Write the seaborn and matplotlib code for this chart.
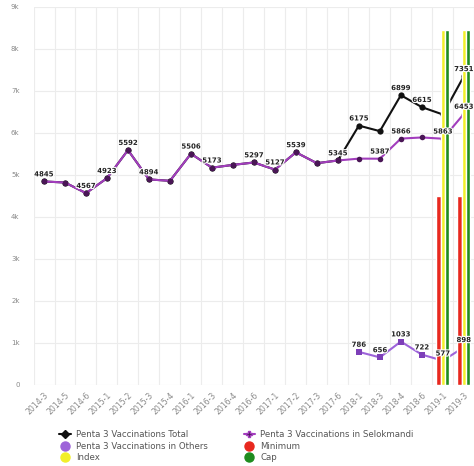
import numpy as np
import pandas as pd
import matplotlib
matplotlib.use("Agg")
import matplotlib.pyplot as plt
import matplotlib.patheffects as pe
from matplotlib.lines import Line2D
from matplotlib.ticker import FuncFormatter
import seaborn as sns

# Reporting months
months = ["2014-3", "2014-5", "2014-6", "2015-1", "2015-2", "2015-3", "2015-4",
          "2016-1", "2016-3", "2016-4", "2016-6", "2017-1", "2017-2", "2017-3",
          "2017-6", "2018-1", "2018-3", "2018-4", "2018-6", "2019-1", "2019-3"]

# Penta 3 vaccinations
total = [4845, 4820, 4567, 4923, 5592, 4894, 4860, 5506, 5173, 5240, 5297,
         5127, 5539, 5280, 5345, 6175, 6043, 6899, 6615, 6440, 7351]
selokmandi = [4845, 4820, 4567, 4923, 5592, 4894, 4860, 5506, 5173, 5240, 5297,
              5127, 5539, 5280, 5345, 5389, 5387, 5866, 5893, 5863, 6453]
others = [np.nan] * 15 + [786, 656, 1033, 722, 577, 898]

# Reference levels for the latest two months
level_months = ["2019-1", "2019-3"]
minimum = [4500, 4500]
index_level = [8450, 8450]
cap = [8450, 8450]

# Points that carry value labels
total_labeled = [0, 2, 3, 4, 5, 7, 8, 10, 11, 12, 14, 15, 17, 18, 20]
selok_labeled = [16, 17, 19, 20]
others_labeled = [15, 16, 17, 18, 19, 20]

C_TOTAL = "#111111"
C_SELOK = "#a23dbd"
C_OTHERS = "#9d63d9"
C_MIN = "#e8281f"
C_INDEX = "#f2ef2a"
C_CAP = "#1f8c1f"

sns.set_theme(style="white")
plt.rcParams["font.family"] = ["DejaVu Sans"]

fig = plt.figure(figsize=(4.74, 4.66), dpi=100)
ax = fig.add_axes([0.0707, 0.174, 0.93, 0.811])

pos = np.arange(len(months))
lines = pd.DataFrame({"pos": pos, "total": total, "selok": selokmandi, "others": others})

sns.lineplot(data=lines, x="pos", y="total", color=C_TOTAL, marker="o",
             markersize=4.5, markeredgewidth=0, linewidth=1.5, ax=ax, zorder=3)
sns.lineplot(data=lines, x="pos", y="selok", color=C_SELOK, marker="o",
             markersize=4, markerfacecolor="#4a1656", markeredgewidth=0,
             linewidth=1.5, ax=ax, zorder=4)
sns.lineplot(data=lines.dropna(), x="pos", y="others", color=C_OTHERS, marker="s",
             markersize=4, markerfacecolor="#7d3fb8", markeredgewidth=0,
             linewidth=1.5, ax=ax, zorder=4)

level_pos = [months.index(m) for m in level_months]
bars = pd.DataFrame({
    "pos": level_pos * 3,
    "value": minimum + index_level + cap,
    "kind": ["Minimum"] * 2 + ["Index"] * 2 + ["Cap"] * 2,
})
sns.barplot(data=bars, x="pos", y="value", hue="kind", native_scale=True,
            palette={"Minimum": C_MIN, "Index": C_INDEX, "Cap": C_CAP},
            hue_order=["Minimum", "Index", "Cap"], width=0.62, saturation=1,
            dodge=True, legend=False, ax=ax, zorder=5)

stroke = [pe.withStroke(linewidth=1.6, foreground="white")]

def label_points(values, idxs, dy=3):
    for i in idxs:
        v = values[i]
        ax.annotate(f"{int(v)}", (i, v), xytext=(0, dy), textcoords="offset points",
                    ha="center", va="bottom", fontsize=5, fontweight="bold",
                    color="#222222", path_effects=stroke, zorder=6)

label_points(total, total_labeled)
label_points(selokmandi, selok_labeled)
label_points(others, others_labeled)

ax.set_xlim(-0.5, len(months) - 0.5)
ax.set_ylim(0, 9000)
ax.set_xticks(pos)
ax.set_xticklabels(months, rotation=45, ha="right", rotation_mode="anchor",
                   fontsize=5.6, color="#8a8a8a")
ax.set_xticks(np.arange(-0.5, len(months)), minor=True)
ax.set_yticks(np.arange(0, 9001, 1000))
ax.yaxis.set_major_formatter(FuncFormatter(lambda v, _: "0" if v == 0 else f"{int(v/1000)}k"))
ax.tick_params(axis="y", labelsize=5, labelcolor="#8a8a8a", length=0, pad=10)
ax.tick_params(axis="x", which="both", length=0, pad=4)
ax.set_xlabel("")
ax.set_ylabel("")
ax.grid(False)
ax.yaxis.grid(True, color="#ececec", linewidth=0.8)
ax.xaxis.grid(True, which="minor", color="#ececec", linewidth=0.8)
ax.set_axisbelow(True)
for s in ax.spines.values():
    s.set_visible(False)

handles = [
    Line2D([], [], color=C_TOTAL, marker="D", markersize=4, linewidth=1.5),
    Line2D([], [], color=C_OTHERS, marker="o", markersize=6.5, linewidth=0),
    Line2D([], [], color=C_INDEX, marker="o", markersize=6.5, linewidth=0),
    Line2D([], [], color=C_SELOK, marker="P", markersize=4, markerfacecolor="#4a1656",
           linewidth=1.5),
    Line2D([], [], color=C_MIN, marker="o", markersize=6.5, linewidth=0),
    Line2D([], [], color=C_CAP, marker="o", markersize=6.5, linewidth=0),
]
labels = ["Penta 3 Vaccinations Total", "Penta 3 Vaccinations in Others", "Index",
          "Penta 3 Vaccinations in Selokmandi", "Minimum", "Cap"]
fig.legend(handles, labels, ncol=2, loc="upper left", bbox_to_anchor=(0.118, 0.084),
           frameon=False, fontsize=6.2, labelcolor="#555555", handlelength=1.3,
           handletextpad=0.6, columnspacing=4.2, labelspacing=0.3, borderaxespad=0)

fig.savefig("out.png", dpi=100)
